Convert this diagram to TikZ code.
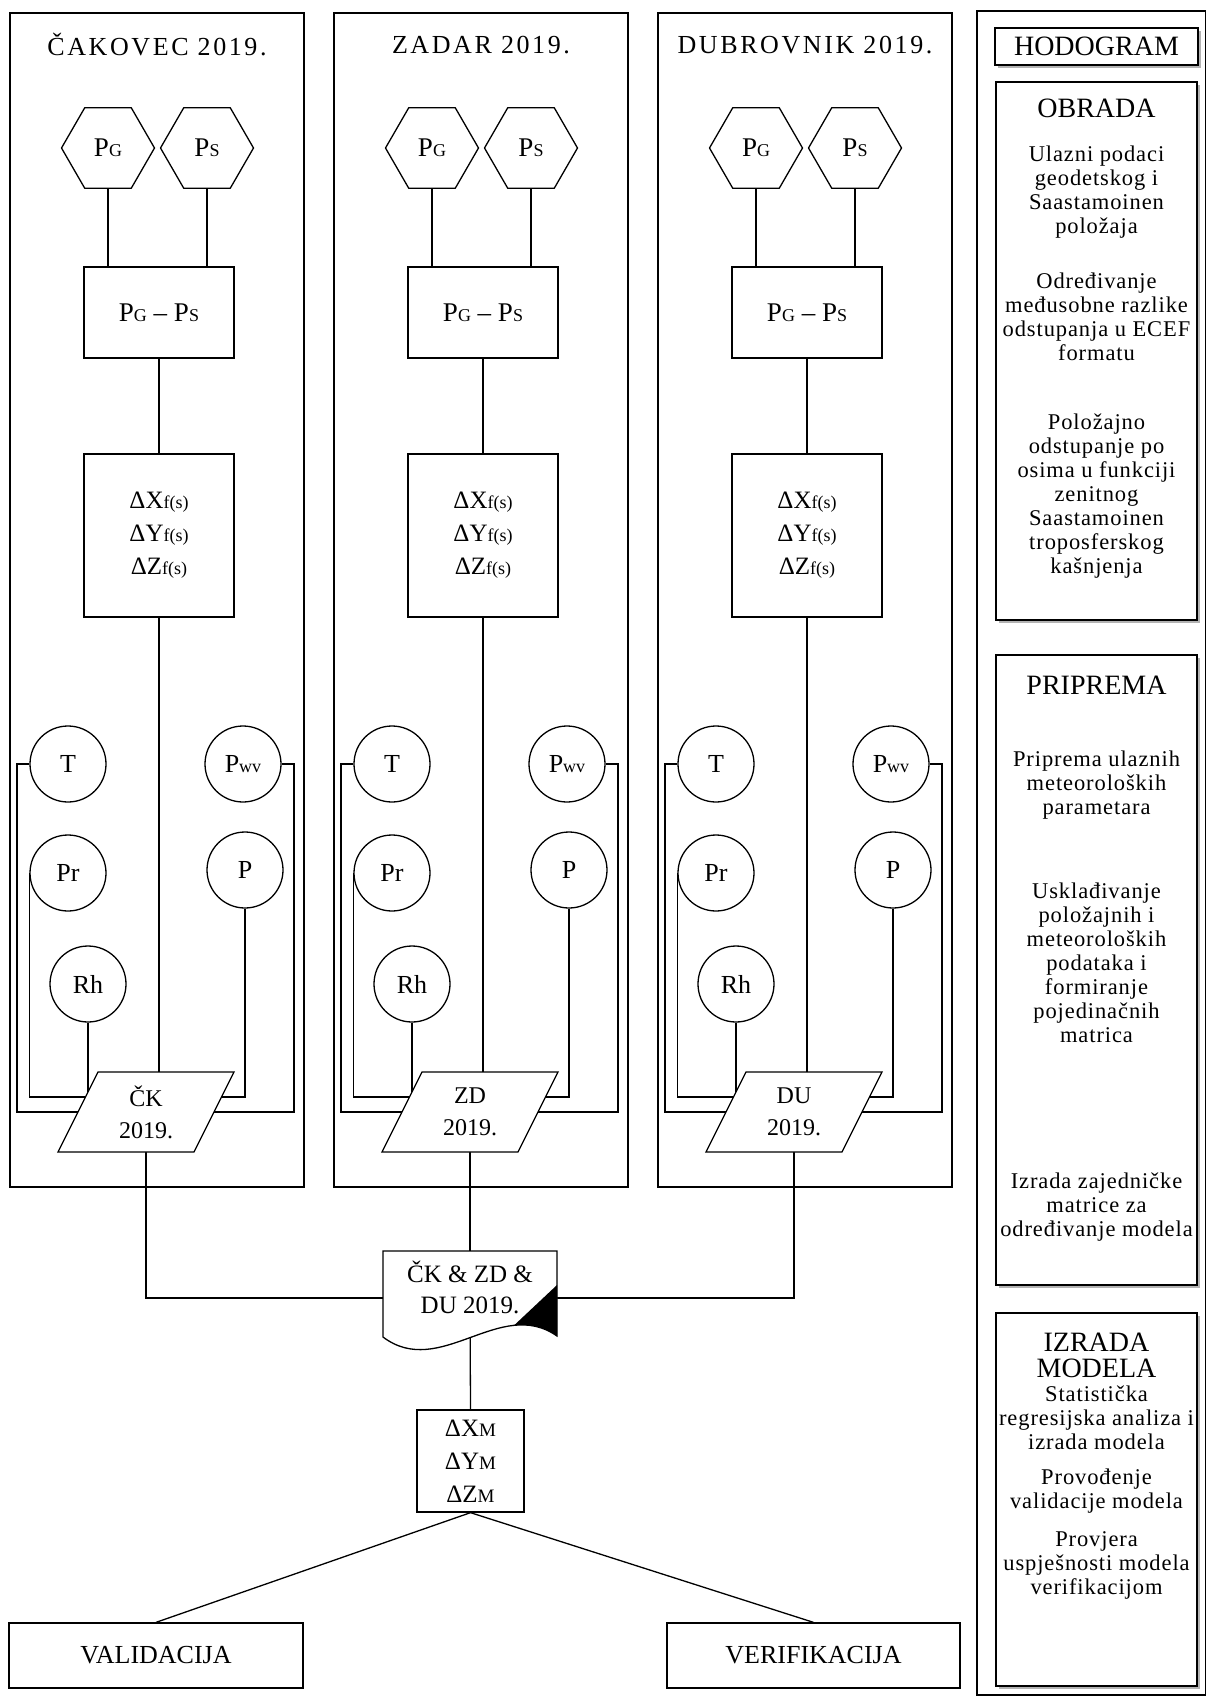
\documentclass[tikz,border=0pt]{standalone}
\usepackage{fontspec}
\setmainfont{Liberation Serif}
\usetikzlibrary{shapes.geometric,shadows,calc}
\pgfdeclarelayer{bg}
\pgfsetlayers{bg,main}
\newcommand{\fsz}[2]{\fontsize{#1}{#2}\selectfont}
\newcommand{\smc}[1]{{\fontsize{18}{18}\selectfont #1}}
\newcommand{\smm}[1]{{\fontsize{19}{19}\selectfont #1}}
\tikzset{
  ln/.style={line width=1.3pt, draw=black},
  panelbox/.style={ln, rectangle, inner sep=0pt, minimum width=294pt, minimum height=1174pt},
  hexa/.style={ln, regular polygon, regular polygon sides=6, minimum size=93pt, inner sep=0pt, fill=white, font=\fsz{27}{30}},
  rbox/.style={ln, rectangle, inner sep=0pt, fill=white, align=center},
  circ/.style={ln, circle, minimum size=76pt, inner sep=0pt, fill=white, font=\fsz{26}{28}},
  ptitle/.style={font=\fsz{26}{30}\addfontfeatures{LetterSpace=10}},
  shbox/.style={ln, rectangle, inner sep=0pt, fill=white, minimum width=201pt,
     drop shadow={shadow xshift=3pt, shadow yshift=-3pt, fill=black!50, opacity=0.6}},
  rtitle/.style={font=\fsz{28}{26}, align=center},
  rtxt/.style={font=\fsz{22.5}{24}\addfontfeatures{LetterSpace=4}, align=center, inner sep=0pt},
}
\begin{document}
\begin{tikzpicture}[x=1pt,y=-1pt]
\useasboundingbox (0,0) rectangle (1208,1697);

% three station panels
\foreach \dx/\pn/\ptl/\pab in {0/ck/{ČAKOVEC 2019.}/ČK, 324/zd/{ZADAR 2019.}/ZD, 648/du/{DUBROVNIK 2019.}/DU}{
  \node[panelbox] (\pn-panel) at (\dx+157,600) {};
  \node[ptitle] (\pn-title) at (\dx+157,45) {\ptl};
  \node[hexa] (\pn-pg) at (\dx+108,148) {P\smc{G}};
  \node[hexa] (\pn-ps) at (\dx+207,148) {P\smc{S}};
  \node[rbox, minimum width=150pt, minimum height=91pt, font=\fsz{27}{30}] (\pn-diff) at (\dx+159,312.5) {P\smc{G} -- P\smc{S}};
  \node[rbox, minimum width=150pt, minimum height=163pt, font=\fsz{25}{33}] (\pn-dx) at (\dx+159,535.5)
     {ΔX\smc{f(s)}\\ΔY\smc{f(s)}\\ΔZ\smc{f(s)}};
  \node[circ] (\pn-T) at (\dx+68,764) {T};
  \node[circ] (\pn-Pwv) at (\dx+243,764) {P\smc{wv}};
  \node[circ] (\pn-Pr) at (\dx+68,873) {Pr};
  \node[circ] (\pn-P) at (\dx+245,870) {P};
  \node[circ] (\pn-Rh) at (\dx+88,984) {Rh};
  \filldraw[ln, fill=white] (\dx+98,1072) -- (\dx+234,1072) -- (\dx+194,1152) -- (\dx+58,1152) -- cycle;
  \node[font=\fsz{24}{32}, align=center, inner sep=0pt] (\pn) at (\dx+146,1112) {\pab\\2019.};
  \begin{pgfonlayer}{bg}
    \draw[ln] (\pn-pg.south) -- (\pn-pg.south |- \pn-diff.north);
    \draw[ln] (\pn-ps.south) -- (\pn-ps.south |- \pn-diff.north);
    \draw[ln] (\pn-diff.south) -- (\pn-dx.north);
    \draw[ln] (\pn-dx.south) -- (\pn-dx.south |- \pn.center);
    \draw[ln] (\pn-T.west) -| (\dx+17,1112) -- (\pn.center);
    \draw[ln] (\pn-Pr.west) |- ([yshift=15pt]\pn.center);
    \draw[ln] (\pn-Rh.south) -- (\pn-Rh.south |- \pn.center);
    \draw[ln] (\pn-P.south) |- ([yshift=15pt]\pn.center);
    \draw[ln] (\pn-Pwv.east) -| (\dx+294,1112) -- (\pn.center);
  \end{pgfonlayer}
}

% merged document
\filldraw[ln, fill=white] (383,1251) -- (557,1251) -- (557,1336)
   .. controls (500,1296) and (440,1380) .. (383,1337) -- cycle;
\fill[black] (557,1285) -- (557,1336) .. controls (542.75,1326) and (528.3,1323.75) .. (514,1325.4) -- cycle;
\node[minimum width=174pt, minimum height=94pt, inner sep=0pt] (doc) at (470,1298) {};
\node[font=\fsz{25}{31}, align=center, inner sep=0pt] (doctxt) at (470,1287) {ČK \& ZD \&\\DU 2019.};

\node[rbox, minimum width=107pt, minimum height=102pt, font=\fsz{25}{33}] (dxm) at (470.5,1461)
   {ΔX\smm{M}\\ΔY\smm{M}\\ΔZ\smm{M}};
\node[rbox, minimum width=294pt, minimum height=65pt, font=\fsz{26}{30}] (val) at (156,1655.5) {VALIDACIJA};
\node[rbox, minimum width=293pt, minimum height=65pt, font=\fsz{26}{30}] (ver) at (813.5,1655.5) {VERIFIKACIJA};

\begin{pgfonlayer}{bg}
  \draw[ln] (ck.center) |- (doc.west);
  \draw[ln] (zd.center) -- (doc.north);
  \draw[ln] (du.center) |- (doc.east);
  \draw[ln] (doc.center) -- (dxm.north);
  \draw[ln] (dxm.south) -- (val.north);
  \draw[ln] (dxm.south) -- (ver.north);
\end{pgfonlayer}

% right column: legend
\node[ln, rectangle, inner sep=0pt, minimum width=228.5pt, minimum height=1684pt] (rcol) at (1091.25,853) {};
\node[shbox, minimum width=203pt, minimum height=37pt, font=\fsz{28}{30}] (hod) at (1096.5,46.5) {HODOGRAM};
\node[shbox, minimum height=538pt] (obr) at (1096.5,351) {};
\node[shbox, minimum height=630pt] (pri) at (1096.5,970) {};
\node[shbox, minimum height=373pt] (izr) at (1096.5,1499.5) {};

\node[rtitle] (obt) at (1096.5,108) {OBRADA};
\node[rtxt] (ob1) at (1096.5,192.5) {Ulazni podaci\\geodetskog i\\Saastamoinen\\položaja};
\node[rtxt] (ob2) at (1096.5,316.5) {Određivanje\\međusobne razlike\\odstupanja u ECEF\\formatu};
\node[rtxt] (ob3) at (1096.5,496) {Položajno\\odstupanje po\\osima u funkciji\\zenitnog\\Saastamoinen\\troposferskog\\kašnjenja};

\node[rtitle] (prt) at (1096.5,685) {PRIPREMA};
\node[rtxt] (pr1) at (1096.5,785) {Priprema ulaznih\\meteoroloških\\parametara};
\node[rtxt] (pr2) at (1096.5,963) {Usklađivanje\\položajnih i\\meteoroloških\\podataka i\\formiranje\\pojedinačnih\\matrica};
\node[rtxt] (pr3) at (1096.5,1207) {Izrada zajedničke\\matrice za\\određivanje modela};

\node[rtitle] (izt) at (1096.5,1355) {IZRADA\\MODELA};
\node[rtxt] (iz1) at (1096.5,1418) {Statistička\\regresijska analiza i\\izrada modela};
\node[rtxt] (iz2) at (1096.5,1491.5) {Provođenje\\validacije modela};
\node[rtxt] (iz3) at (1096.5,1565) {Provjera\\uspješnosti modela\\verifikacijom};
\end{tikzpicture}
\end{document}
